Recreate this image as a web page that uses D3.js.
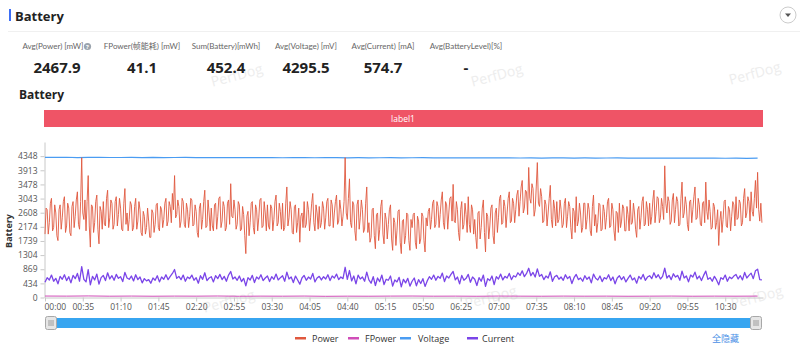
<!DOCTYPE html>
<html><head><meta charset="utf-8">
<script src="https://cdn.jsdelivr.net/npm/d3@7"></script>
<style>
body{margin:0;background:#fff;}
svg{display:block;font-family:"Open Sans","Noto Sans CJK SC",sans-serif;}
</style></head><body>
<svg id="c" width="800" height="344"></svg>
<script>
const statLabels = ["Avg(Power) [mW]","FPower(帧能耗) [mW]","Sum(Battery)[mWh]","Avg(Voltage) [mV]","Avg(Current) [mA]","Avg(BatteryLevel)[%]"];
const statValues = ["2467.9","41.1","452.4","4295.5","574.7","-"];
const seriesNames = ["Power","FPower","Voltage","Current"];
const seriesColors = ["#e0583e","#d04db8","#4a9cf2","#7a45e8"];
const xTickLabels = ["00:00","00:35","01:10","01:45","02:20","02:55","03:30","04:05","04:40","05:15","05:50","06:25","07:00","07:35","08:10","08:45","09:20","09:55","10:30"];
const yTicks = [0,434,869,1304,1739,2174,2608,3043,3478,3913,4348];

// Power [mW] at even seconds (0,2,4,...)
const powerEven = [
1950,2700,2300,3050,2150,2600,1750,2850,2450,3100,
2200,2750,1900,2950,2500,3250,2100,4300,2400,2050,
3750,1550,2800,2300,3150,1650,2650,2950,2200,3300,
2450,2900,2250,3100,2550,2750,2050,3350,2600,2400,
2850,2150,3050,2350,2700,1900,2500,2150,2350,1850,
2600,2250,2900,2050,2700,2400,3050,2350,2800,3200,
3750,2550,2800,2350,2950,2150,2700,2500,3000,2250,
2650,1850,2900,2400,3300,2200,2600,2750,2050,2900,
2500,3100,2350,2800,2150,3000,3500,2450,2700,2250,
2850,2100,2550,1350,2650,2300,2950,1950,2700,2450,
3050,2200,2600,2850,2100,2750,2400,3150,2300,2650,
2900,2150,3400,2450,2700,1950,2850,2300,1700,2600,
2950,2250,2700,2450,3200,2050,2600,2800,2300,2750,
2450,3050,2200,2850,2600,3150,2350,2700,2500,4300,
2400,3650,2150,2850,1750,3000,2450,2700,2100,3400,
2300,1850,2750,1500,2600,2100,3000,1650,2400,2250,
2850,1450,2300,2050,2700,1350,2400,1900,2550,1450,
2150,2600,1500,2350,1800,2500,1400,2200,2750,2400,
3000,2250,2800,2550,3250,2100,2850,2600,3100,3480,
2300,2700,1750,2950,2250,2550,3100,2000,2700,2400,
1500,2650,2150,3000,1400,2500,2200,2850,1650,2750,
2450,3150,2300,2800,2600,3250,2350,2900,2700,3300,
2950,3600,2750,3250,4000,2900,3350,2700,4150,2800,
3100,2350,2850,2600,3450,2150,2750,2950,2400,2700,
2250,3050,2500,2800,1800,2650,3100,2350,2600,2150,
2900,2400,2700,1900,3150,2550,2300,2850,2100,2650,
2450,3050,2200,2700,1750,2600,2900,2350,2750,2050,
2550,3000,2300,2600,1850,2800,2450,3100,2250,2700,
2900,2500,3300,2650,3050,2450,2800,4050,2600,2950,
2350,3200,2700,2950,2250,3550,2600,2850,2050,3000,
2700,3400,2450,2850,2200,2950,3550,2400,2650,2150,
2800,2300,1600,2650,2400,3000,2150,2700,2500,2850,
3100,2450,2900,2300,3350,2600,2950,3250,2500,3600,
3850,2350,2300];

// Power [mW] at odd seconds (1,3,5,...)
const powerOdd = [
2750,1950,2900,2050,2850,1900,2700,2100,2950,2000,
2900,2000,2800,2150,3000,2250,2950,2600,3000,2950,
2200,2850,2000,2950,2100,2800,2100,2250,3050,2150,
3000,2100,2950,2200,3050,2100,2900,2250,2050,2950,
2050,2800,2100,2950,2000,2650,1950,2750,1850,2700,
2000,2850,2150,2800,2150,2900,2200,2950,2300,2700,
2450,3000,2150,3050,2250,2900,2150,3050,2200,2850,
2000,2750,2100,2950,2150,3000,2050,2200,2850,2100,
3050,2150,2950,2050,2900,2250,2500,3000,2100,2950,
2050,2800,1900,2500,1900,2900,2150,2850,2050,3000,
2150,2950,2050,2200,2850,2050,2950,2200,2900,2100,
2050,2900,2200,2950,2000,2800,2000,2750,2500,2150,
2150,2950,2050,2900,2300,2850,2100,2150,2950,2100,
2950,2200,3000,2150,2950,2250,3000,2200,2950,2600,
3050,2300,2950,2050,2850,2100,3000,2000,2900,2000,
1700,2700,1900,2550,1750,2800,1950,2600,1800,2700,
1800,2450,1600,2650,1700,2350,1650,2600,1750,2400,
2550,1700,2500,1650,2600,1750,2450,2650,2100,2900,
2150,2950,2150,3000,2300,2950,2100,3050,2350,2350,
2950,2000,2700,2100,2900,2000,2250,2850,1950,1850,
2600,1800,2750,2000,2600,1800,2750,1900,2600,2000,
3050,2250,3000,2150,3050,2300,3050,2300,3150,2500,
3400,2600,3300,2550,3050,3500,2500,3400,2900,3350,
2300,3000,2200,3050,2400,3000,2200,2300,3000,2150,
2900,2150,2950,2150,2750,2000,2200,2900,2000,2900,
2100,2900,2050,2800,2200,2000,2900,2050,2850,2100,
2950,2150,2900,2050,2650,2000,2150,2850,2050,2800,
2050,2250,2900,2100,2700,2100,2950,2200,2950,2200,
2250,3000,2300,3100,2300,3050,2400,2900,3100,2250,
3000,2300,3100,2200,3050,2450,3100,2250,2950,2300,
3100,2400,3050,2250,2900,2300,2650,3000,2100,2900,
2100,2700,2350,2000,2950,2200,2800,2050,2950,2200,
2400,3000,2200,3050,2450,3100,2350,2650,3050,2750,
2700,2900];

// Current [mA], one sample every 2 s
const current = [
470,610,540,690,500,590,420,650,560,700,
520,640,450,680,580,740,500,950,560,480,
860,390,650,540,720,410,610,680,520,760,
570,670,530,710,590,640,490,770,600,560,
660,510,700,550,630,450,580,510,550,440,
600,530,670,480,630,560,700,550,650,740,
860,590,650,550,690,500,630,580,690,530,
610,440,670,560,760,520,600,640,480,670,
580,710,550,650,500,690,800,570,630,530,
660,490,590,360,610,540,680,460,630,570,
700,520,600,660,490,640,560,720,540,610,
670,500,780,570,630,460,660,540,410,600,
680,530,630,570,740,480,600,650,540,640,
570,700,520,660,600,720,550,630,580,930,
560,830,510,660,420,690,570,630,500,780,
540,440,640,370,600,490,690,400,560,530,
660,350,540,480,620,330,560,450,590,350,
500,600,360,550,430,580,340,510,640,560,
690,530,650,590,750,490,660,600,710,800,
540,630,420,680,530,590,710,470,630,560,
370,610,500,690,340,580,520,660,400,640,
570,720,540,650,600,740,550,670,630,760,
680,820,640,740,900,670,770,630,880,650,
710,550,660,600,790,500,640,680,560,630,
530,700,580,650,430,610,710,550,600,500,
670,560,630,450,720,590,540,660,490,610,
570,700,520,630,420,600,670,550,640,480,
590,690,540,600,440,650,570,710,530,630,
670,580,760,610,700,570,650,900,600,680,
550,730,630,680,530,810,600,660,480,690,
630,780,570,660,520,680,810,560,610,500,
650,540,390,610,560,690,500,630,580,660,
710,570,670,540,770,600,680,750,580,820,
870,550,540];

// Voltage [mV], one sample every 10 s
const voltage = [
4312,4310,4314,4305,4309,4311,4307,4306,4310,4304,
4308,4303,4306,4309,4302,4305,4307,4301,4304,4300,
4303,4306,4299,4302,4304,4298,4301,4303,4297,4300,
4296,4299,4301,4295,4298,4300,4294,4297,4299,4293,
4296,4292,4295,4297,4291,4294,4290,4293,4295,4289,
4292,4288,4291,4293,4287,4290,4286,4289,4291,4285,
4288,4284,4287,4283,4286,4282,4285];

// FPower [mW], one sample every 20 s
const fpower = [45,42,48,40,44,39,43,41,46,38,42,40,44,37,41,39,43,45,40,42,38,44,41,39,43,40,42,38,41,44,39,42,40,43];

const svg = d3.select("#c");
const ff = '"Open Sans","Noto Sans CJK SC",sans-serif';

// watermarks
[[238,80],[498,80],[756,78],[230,306],[492,302],[758,302]].forEach(([x,y])=>{
  svg.append("text").attr("transform",`translate(${x},${y}) rotate(-15)`)
    .attr("text-anchor","middle").attr("font-size",14).attr("fill","#ededed").text("PerfDog");
});

// header
svg.append("rect").attr("x",9).attr("y",9).attr("width",2).attr("height",12).attr("fill","#3d6ef5");
svg.append("text").attr("x",15).attr("y",21).attr("font-size",13).attr("font-weight","bold").attr("fill","#222").text("Battery");
svg.append("line").attr("x1",8).attr("x2",800).attr("y1",31.5).attr("y2",31.5).attr("stroke","#f0f0f0");
svg.append("circle").attr("cx",788).attr("cy",15).attr("r",8).attr("fill","#fff").attr("stroke","#ccc");
svg.append("path").attr("d","M785,13.5 L791,13.5 L788,17 Z").attr("fill","#555");

// stats
const statX = [57,142,226,306,383,466];
statLabels.forEach((l,i)=>{
  svg.append("text").attr("x", i===0 ? statX[i]-4 : statX[i]).attr("y",49).attr("text-anchor","middle")
    .attr("font-size",8).attr("font-family",'Lato,"Noto Sans CJK SC",sans-serif').attr("fill","#666").text(l);
  svg.append("text").attr("x",statX[i]).attr("y",73).attr("text-anchor","middle")
    .attr("font-size",15).attr("font-weight","bold").attr("fill","#222").text(statValues[i]);
});
svg.append("circle").attr("cx",87.5).attr("cy",46.5).attr("r",3.6).attr("fill","#9aa3ad");
svg.append("text").attr("x",87.5).attr("y",48.8).attr("text-anchor","middle").attr("font-size",6).attr("font-weight","bold").attr("fill","#fff").text("?");

svg.append("text").attr("x",19).attr("y",99).attr("font-size",12).attr("font-weight","bold").attr("fill","#222").text("Battery");

// label bar
svg.append("rect").attr("x",44).attr("y",110).attr("width",719).attr("height",17).attr("fill","#ef5466");
svg.append("text").attr("x",403).attr("y",122).attr("text-anchor","middle").attr("font-size",8.5).attr("fill","#fff").text("label1");

// scales
const x = d3.scaleLinear().domain([0,665]).range([45,763]);
const y = d3.scaleLinear().domain([0,4783]).range([297.5,142]);

// axes
const yAxis = svg.append("g").attr("transform","translate(44.5,0)")
  .call(d3.axisLeft(y).tickValues(yTicks).tickFormat(d3.format("d")).tickSize(4).tickPadding(3).tickSizeOuter(0));
yAxis.select(".domain").attr("stroke","#c8c8c8");
yAxis.selectAll(".tick line").attr("stroke","#c8c8c8");
yAxis.selectAll(".tick text").attr("font-size",8.5).attr("fill","#555").attr("font-family",ff);

const xSecs = xTickLabels.map(s=>{const [m,ss]=s.split(":").map(Number);return m*60+ss;});
const xAxis = svg.append("g").attr("transform","translate(0,297.5)")
  .call(d3.axisBottom(x).tickValues(xSecs).tickFormat((d,i)=>xTickLabels[i]).tickSize(4).tickPadding(2).tickSizeOuter(0));
xAxis.select(".domain").attr("stroke","#c8c8c8");
xAxis.selectAll(".tick line").attr("stroke","#c8c8c8");
xAxis.selectAll(".tick text").attr("font-size",8.5).attr("fill","#555").attr("font-family",ff);
xAxis.selectAll(".tick text").filter((d,i)=>i===0).attr("text-anchor","start").attr("dx",-1);

svg.append("text").attr("transform","translate(12,231) rotate(-90)").attr("text-anchor","middle")
  .attr("font-size",9).attr("font-weight","bold").attr("fill","#333").text("Battery");

// lines
const powerPts = [];
powerEven.forEach((v,i)=>{
  powerPts.push([i*2, v]);
  if (i < powerOdd.length) powerPts.push([i*2+1, powerOdd[i]]);
});
const mk = (arr,step)=>arr.map((v,i)=>[i*step,v]);
const line = d3.line().x(d=>x(d[0])).y(d=>y(d[1]));
const series = [
  {d: mk(fpower,20), c: seriesColors[1], w:1},
  {d: mk(voltage,10), c: seriesColors[2], w:1.2},
  {d: mk(current,2), c: seriesColors[3], w:1.3},
  {d: powerPts, c: seriesColors[0], w:0.9}
];
series.forEach(s=>{
  svg.append("path").datum(s.d).attr("d",line).attr("fill","none").attr("stroke",s.c).attr("stroke-width",s.w).attr("stroke-linejoin","round");
});

// data zoom slider
svg.append("rect").attr("x",50).attr("y",318).attr("width",708).attr("height",10).attr("fill","#37a5f0");
[45,750].forEach(hx=>{
  svg.append("rect").attr("x",hx+0.5).attr("y",316.5).attr("width",11).attr("height",13).attr("rx",2)
    .attr("fill","#e6e6e6").attr("stroke","#a8a8a8");
  [-2,0,2].forEach(o=>svg.append("line").attr("x1",hx+6+o).attr("x2",hx+6+o).attr("y1",320).attr("y2",326).attr("stroke","#888").attr("stroke-width",0.8));
});

// legend
const legX = [[295,312],[348,365],[400,418],[467,482]];
seriesNames.forEach((n,i)=>{
  svg.append("rect").attr("x",legX[i][0]).attr("y",337).attr("width",11).attr("height",2.5).attr("fill",seriesColors[i]);
  svg.append("text").attr("x",legX[i][1]).attr("y",341.5).attr("font-size",9).attr("fill","#333").text(n);
});
svg.append("text").attr("x",712).attr("y",341.5).attr("font-size",9).attr("fill","#4a8fe6").text("全隐藏");
</script>
</body></html>
